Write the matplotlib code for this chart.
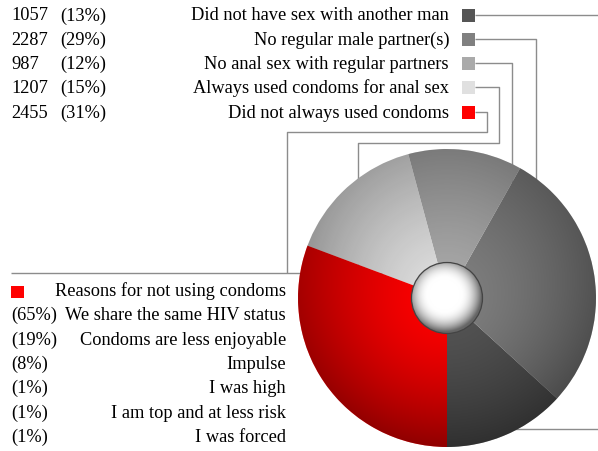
import numpy as np
import matplotlib.pyplot as plt
from matplotlib.patches import Circle, Rectangle

groups = ["Did not have sex with another man", "No regular male partner(s)",
          "No anal sex with regular partners", "Always used condoms for anal sex",
          "Did not always used condoms"]
counts = [1057, 2287, 987, 1207, 2455]
shares = [13, 29, 12, 15, 31]
colors = ['#555555', '#808080', '#aaaaaa', '#e0e0e0', '#ff0000']

reasons = ["We share the same HIV status", "Condoms are less enjoyable", "Impulse",
           "I was high", "I am top and at less risk", "I was forced"]
reason_shares = [65, 19, 8, 1, 1, 1]

plt.rcParams['font.family'] = ['Liberation Serif', 'DejaVu Serif']
FS = 13.2
W, H = 598, 451
fig = plt.figure(figsize=(W / 100, H / 100), dpi=100)
ax = fig.add_axes([0, 0, 1, 1])

cx, cy, R = 447, 298, 149
wedges, _ = ax.pie(counts, colors=colors, center=(cx, cy), radius=R, startangle=90,
                   counterclock=False, wedgeprops=dict(linewidth=0), frame=True)

# radial shading on top of the pie
n = 400
xs = np.linspace(cx - R, cx + R, n)
ys = np.linspace(cy - R, cy + R, n)
X, Y = np.meshgrid(xs, ys)
r = np.hypot(X - cx, Y - cy) / R
alpha = np.clip(0.36 * r ** 1.5 + 0.08 * (Y - cy) / R * r, 0, 1)
shade = np.zeros((n, n, 4))
shade[..., 3] = alpha
im = ax.imshow(shade, extent=(cx - R, cx + R, cy + R, cy - R), origin='upper',
               zorder=3, interpolation='bilinear')
im.set_clip_path(Circle((cx, cy), R, transform=ax.transData))

# white sphere in the middle
r2 = 35.5
xs2 = np.linspace(cx - r2, cx + r2, 200)
ys2 = np.linspace(cy - r2, cy + r2, 200)
X2, Y2 = np.meshgrid(xs2, ys2)
rr = np.hypot(X2 - cx + 3, Y2 - cy + 3) / r2
g = 1 - 0.6 * np.clip((rr - 0.45) / 0.6, 0, 1) ** 2
sphere = np.dstack([g, g, g, np.ones_like(g)])
im2 = ax.imshow(sphere, extent=(cx - r2, cx + r2, cy + r2, cy - r2), origin='upper',
                zorder=4, interpolation='bilinear')
im2.set_clip_path(Circle((cx, cy), r2, transform=ax.transData))
ax.add_patch(Circle((cx, cy), r2, fill=False, ec='#444444', lw=0.9, zorder=5))

# leader lines (drawn under the pie)
lc = '#8c8c8c'
lk = dict(color=lc, lw=1, zorder=0.5, solid_capstyle='butt')
ax.plot([475, 610], [15, 15], **lk)
ax.plot([cx, 610], [429, 429], **lk)
ax.plot([475, 536, 536], [39, 39, cy], **lk)
ax.plot([475, 511.5, 511.5], [63, 63, cy], **lk)
ax.plot([475, 499, 499, 358, 358], [87, 87, 143, 143, cy], **lk)
ax.plot([475, 486.5, 486.5, 286.5, 286.5], [112, 112, 131.5, 131.5, 272.5], **lk)
ax.plot([11, cx], [272.5, 272.5], **lk)

# top legend
for i, (grp, cnt, sh, col) in enumerate(zip(groups, counts, shares, colors)):
    yc = 15 + i * 24.3
    ax.add_patch(Rectangle((462, yc - 6.5), 13, 13, color=col, lw=0, zorder=2))
    ax.text(11, yc + 5.5, str(cnt), fontsize=FS, va='baseline', ha='left')
    ax.text(60, yc + 5.5, f"({sh}%)", fontsize=FS, va='baseline', ha='left')
    ax.text(449, yc + 5.5, grp, fontsize=FS, va='baseline', ha='right')

# reasons box
ax.add_patch(Rectangle((11, 286), 13, 12, color=colors[-1], lw=0, zorder=2))
ax.text(286, 296, "Reasons for not using condoms", fontsize=FS, va='baseline', ha='right')
for i, (rs, sh) in enumerate(zip(reasons, reason_shares)):
    yb = 296 + (i + 1) * 24.3
    ax.text(11, yb, f"({sh}%)", fontsize=FS, va='baseline', ha='left')
    ax.text(286, yb, rs, fontsize=FS, va='baseline', ha='right')

ax.set_xlim(0, W)
ax.set_ylim(H, 0)
ax.set_aspect('auto')
ax.axis('off')
fig.savefig('out.png', dpi=100)
